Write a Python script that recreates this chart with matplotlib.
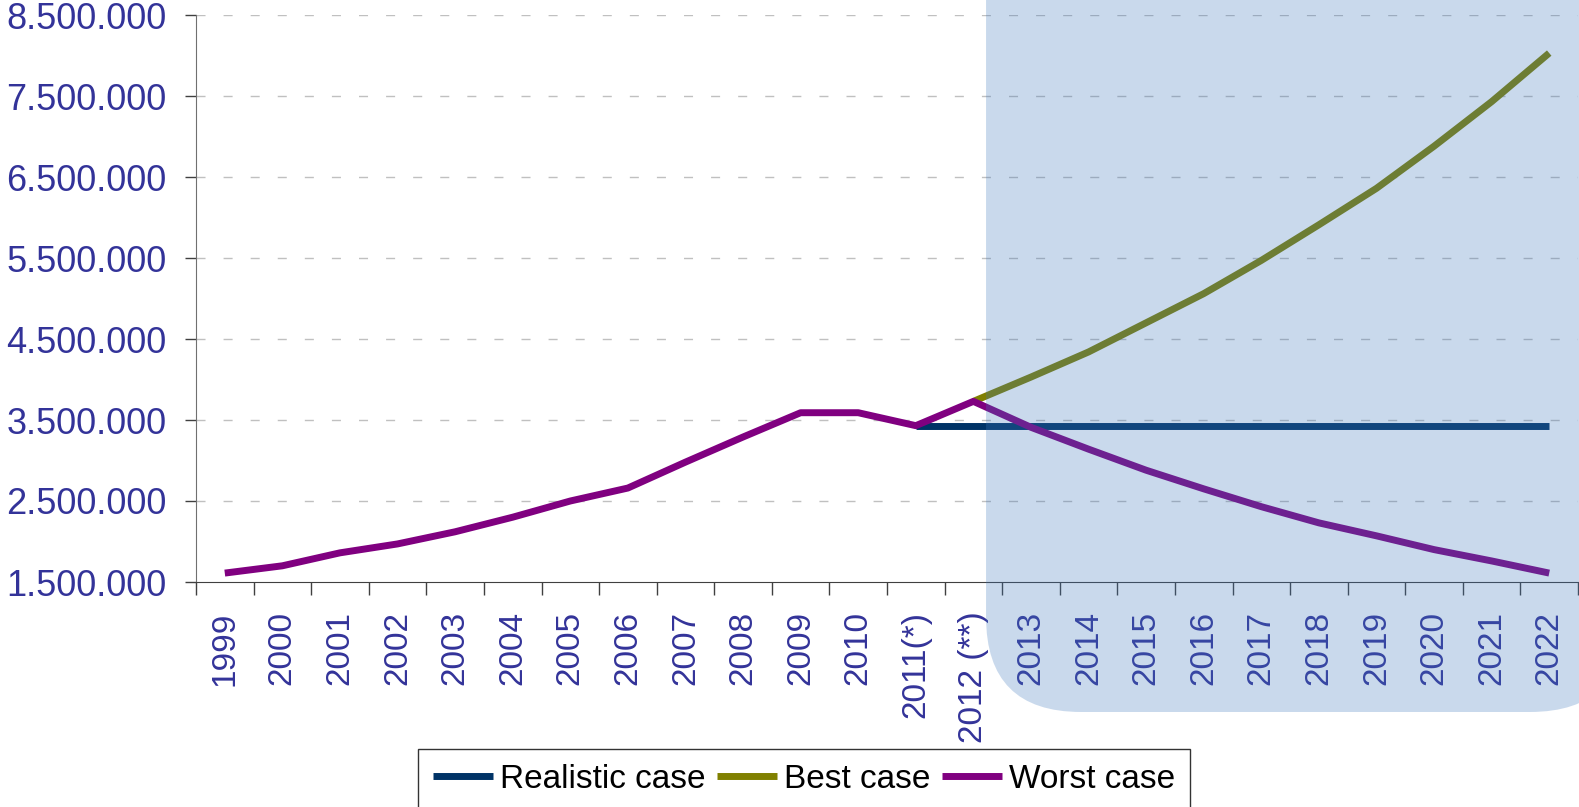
import numpy as np
import matplotlib.pyplot as plt
from matplotlib.patches import FancyBboxPatch
from matplotlib.transforms import IdentityTransform

plt.rcParams['font.family'] = ['Liberation Sans', 'DejaVu Sans']

# data
years = ['1999', '2000', '2001', '2002', '2003', '2004', '2005', '2006',
         '2007', '2008', '2009', '2010', '2011(*)', '2012 (**)', '2013',
         '2014', '2015', '2016', '2017', '2018', '2019', '2020', '2021', '2022']
# realistic case starts at 2011(*)
realistic = [3430000, 3430000, 3430000, 3430000, 3430000, 3430000,
             3430000, 3430000, 3430000, 3430000, 3430000, 3430000]
# best case starts at 2012 (**)
best = [3730000, 4030000, 4340000, 4700000, 5060000, 5470000,
        5910000, 6360000, 6880000, 7430000, 8030000]
# worst case includes the historical series
worst = [1610000, 1700000, 1860000, 1970000, 2120000, 2300000, 2500000,
         2660000, 2980000, 3290000, 3590000, 3590000, 3430000, 3730000,
         3410000, 3140000, 2880000, 2650000, 2430000, 2230000, 2070000,
         1900000, 1760000, 1610000]
yticks = [1500000, 2500000, 3500000, 4500000, 5500000, 6500000, 7500000, 8500000]

label_color = '#333399'
axis_color = '#404040'

fig = plt.figure(figsize=(15.79, 8.07), dpi=100)
ax = fig.add_axes([196 / 1579, 1 - 582 / 807, (1578 - 196) / 1579, (582 - 15) / 807])

x = np.arange(len(years))
i11 = years.index('2011(*)')
i12 = years.index('2012 (**)')
ax.plot(x[i11:], realistic, color='#003366', lw=5, solid_capstyle='butt', zorder=3, label='Realistic case')
ax.plot(x[i12:], best, color='#808000', lw=5, solid_capstyle='butt', zorder=4, label='Best case')
ax.plot(x, worst, color='#800080', lw=5, solid_capstyle='butt', zorder=5, label='Worst case')

ax.set_xlim(-0.5, len(years) - 0.5)
ax.set_ylim(yticks[0], yticks[-1])

# y axis
ax.set_yticks(yticks)
ax.set_yticklabels([f'{v:,.0f}'.replace(',', '.') for v in yticks])
ax.tick_params(axis='y', direction='out', length=8, width=1, color=axis_color,
               labelsize=26, labelcolor=label_color, pad=13)
for v in yticks[1:]:
    ax.axhline(v, color='#c0c0c0', lw=1, dashes=(6.5, 13), zorder=1)

# x axis: labels at centres, tick marks between categories
ax.set_xticks(x)
ax.set_xticklabels(years, rotation=90)
ax.set_xticks(np.arange(len(years) + 1) - 0.5, minor=True)
ax.tick_params(axis='x', which='major', length=0, labelsize=24,
               labelcolor=label_color, pad=21)
ax.tick_params(axis='x', which='minor', direction='out', length=9, width=1, color=axis_color)

for s in ['top', 'right']:
    ax.spines[s].set_visible(False)
ax.spines['left'].set_color('#707070')
ax.spines['bottom'].set_color(axis_color)

# shaded forecast region (rounded box over the plot)
x0 = ax.transData.transform((x[i12] + 0.22, 0))[0]
shade = FancyBboxPatch((x0, 95), 1625 - x0, 1000, boxstyle='round,pad=0,rounding_size=95',
                       transform=IdentityTransform(), facecolor='#3f78bc', alpha=0.28,
                       edgecolor='none', zorder=2)
fig.add_artist(shade)

leg = fig.legend(loc='upper center', bbox_to_anchor=(804 / 1579, 1 - 749 / 807), ncol=3,
                 fontsize=24, frameon=True, fancybox=False, edgecolor='black',
                 handlelength=1.8, handletextpad=0.2, columnspacing=0.35,
                 borderpad=0.45, borderaxespad=0)
leg.get_frame().set_linewidth(1)
leg.set_zorder(10)

fig.savefig('out.png', dpi=100)
